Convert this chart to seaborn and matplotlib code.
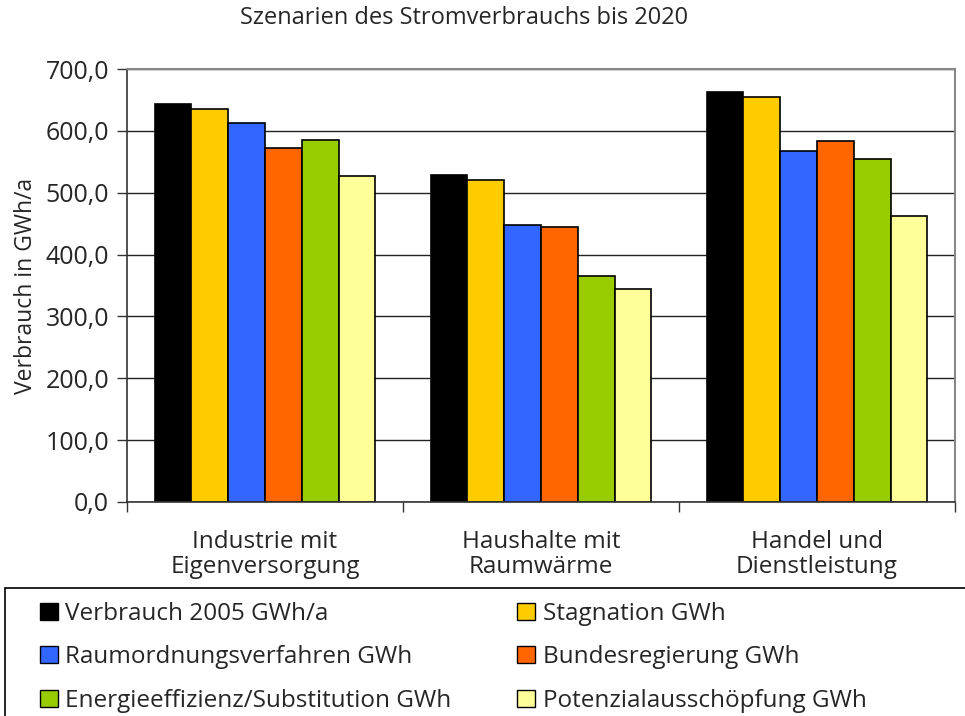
import pandas as pd
import matplotlib.pyplot as plt
import seaborn as sns
from matplotlib.patches import Patch, Rectangle
from matplotlib.ticker import FuncFormatter, FixedLocator

# Daten
sektoren = ['Industrie mit\nEigenversorgung', 'Haushalte mit\nRaumwärme', 'Handel und\nDienstleistung']
szenarien = ['Verbrauch 2005 GWh/a', 'Stagnation GWh', 'Raumordnungsverfahren GWh',
             'Bundesregierung GWh', 'Energieeffizienz/Substitution GWh', 'Potenzialausschöpfung GWh']
verbrauch_2005 = [643.0, 528.0, 663.0]
stagnation = [635.0, 520.0, 655.0]
raumordnung = [612.0, 448.0, 568.0]
bundesregierung = [572.0, 444.0, 583.0]
effizienz = [586.0, 365.0, 554.0]
potenzial = [527.0, 345.0, 462.0]
farben = ['#000000', '#FFCC00', '#3366FF', '#FF6600', '#99CC00', '#FFFF99']

werte = [verbrauch_2005, stagnation, raumordnung, bundesregierung, effizienz, potenzial]
rows = []
for name, serie in zip(szenarien, werte):
    for sektor, w in zip(sektoren, serie):
        rows.append({'Sektor': sektor, 'Szenario': name, 'Wert': w})
df = pd.DataFrame(rows)

sns.set_style('white')
plt.rcParams['font.family'] = ['Open Sans', 'DejaVu Sans']

fig = plt.figure(figsize=(9.65, 7.16), dpi=100)
ax = fig.add_axes([127 / 965, 1 - 502 / 716, (955 - 127) / 965, (502 - 69) / 716])

sns.barplot(data=df, x='Sektor', y='Wert', hue='Szenario', hue_order=szenarien,
            order=sektoren, palette=farben, saturation=1, edgecolor='black',
            linewidth=1.2, width=0.8, ax=ax, legend=False)

ax.set_ylim(0, 700)
ax.set_xlim(-0.5, 2.5)
ax.set_yticks(range(0, 701, 100))
ax.yaxis.set_major_formatter(FuncFormatter(lambda v, p: f'{v:.1f}'.replace('.', ',')))
ax.grid(axis='y', color='#222222', linewidth=1)
ax.set_axisbelow(True)

for s in ['left', 'bottom']:
    ax.spines[s].set_color('#333333')
    ax.spines[s].set_linewidth(1.2)
for s in ['top', 'right']:
    ax.spines[s].set_visible(True)
    ax.spines[s].set_color('#888888')
    ax.spines[s].set_linewidth(1.5)

ax.tick_params(axis='y', direction='out', length=7, width=1, color='#333333',
               labelsize=18, pad=6, left=True)
ax.tick_params(axis='x', which='major', length=0, labelsize=17.5, pad=20)
ax.xaxis.set_minor_locator(FixedLocator([-0.5, 0.5, 1.5, 2.5]))
ax.tick_params(axis='x', which='minor', direction='out', length=7, width=1,
               color='#333333', bottom=True)
for lbl in ax.get_xticklabels():
    lbl.set_linespacing(1.05)

ax.set_xlabel('')
ax.set_ylabel('Verbrauch in GWh/a', fontsize=16.5, labelpad=5)
fig.text(464 / 965, 1 - 18 / 716, 'Szenarien des Stromverbrauchs bis 2020',
         ha='center', va='center', fontsize=17)

# Legende: zeilenweise Reihenfolge wie im Original
reihenfolge = [0, 2, 4, 1, 3, 5]
handles = [Patch(facecolor=farben[i], edgecolor='black', linewidth=1) for i in reihenfolge]
labels = [szenarien[i] for i in reihenfolge]
fig.legend(handles, labels, ncol=2, loc='upper left',
           bbox_to_anchor=(30 / 965, 1 - 592 / 716), frameon=False,
           fontsize=17.5, handlelength=0.75, handleheight=0.7, handletextpad=0.3,
           columnspacing=2.7, labelspacing=0.8, borderaxespad=0)
fig.patches.append(Rectangle((5 / 965, -0.05), 1.1, 0.05 + (716 - 588) / 716,
                             transform=fig.transFigure, fill=False,
                             edgecolor='black', linewidth=1.2))

fig.savefig('out.png', dpi=100)
